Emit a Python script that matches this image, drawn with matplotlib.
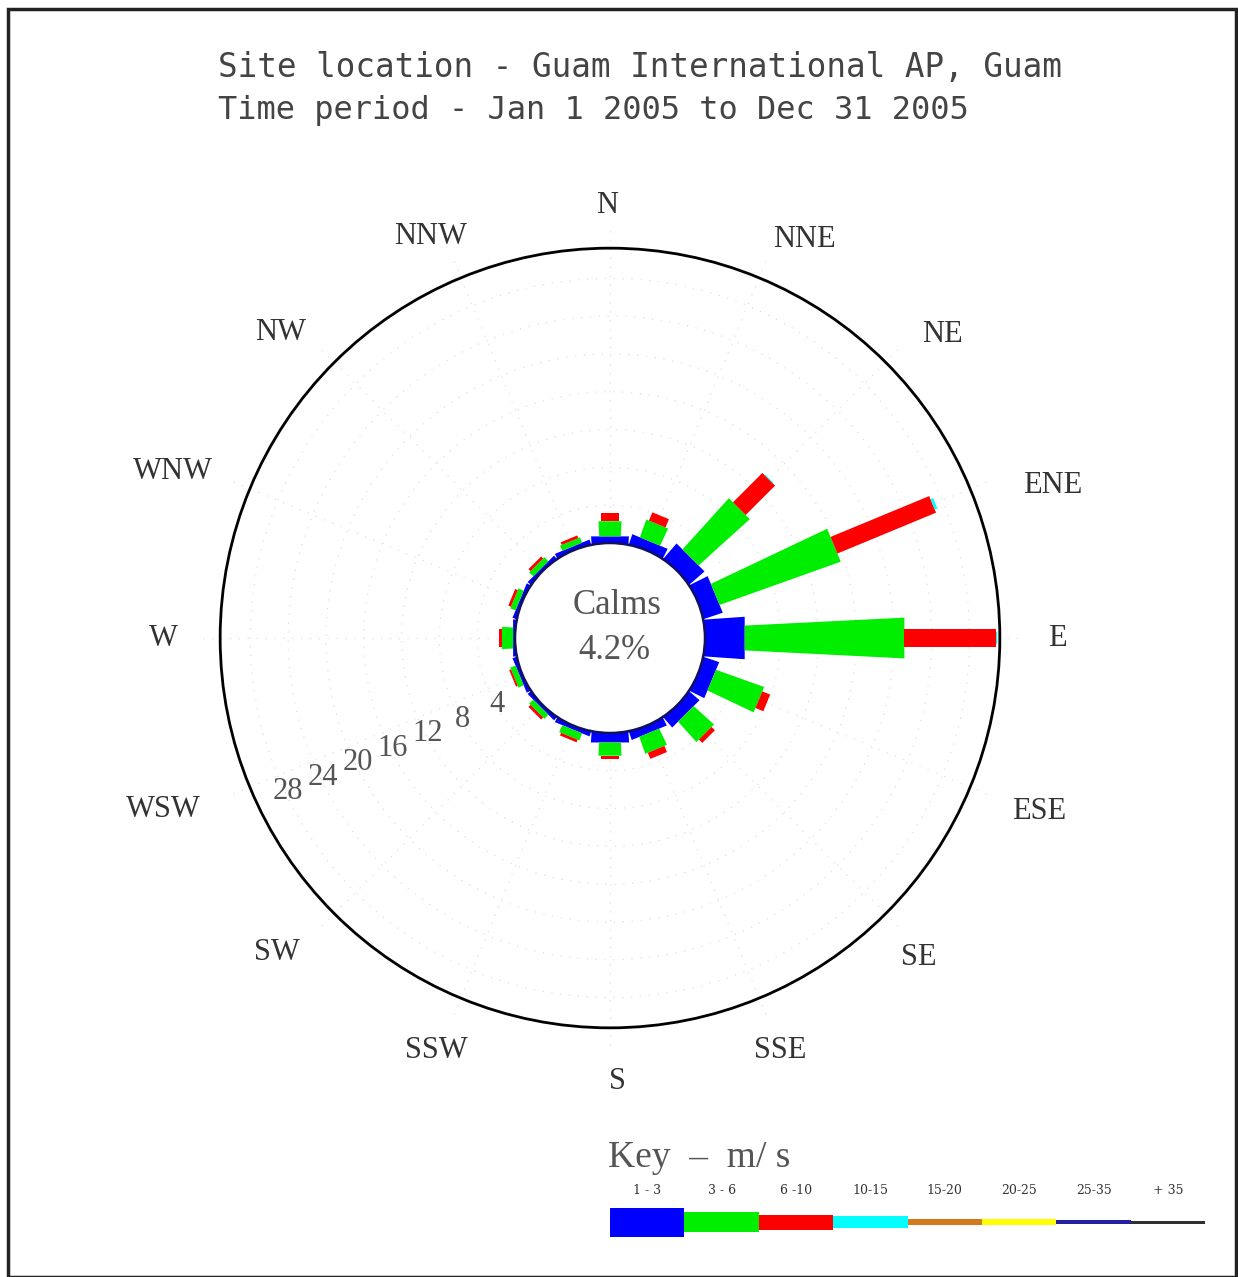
import numpy as np
import matplotlib
matplotlib.use("Agg")
from matplotlib import pyplot as plt
from matplotlib.patches import Polygon, Circle, Rectangle

# wind directions, clockwise from north
directions = ["N", "NNE", "NE", "ENE", "E", "ESE", "SE", "SSE",
              "S", "SSW", "SW", "WSW", "W", "WNW", "NW", "NNW"]

# percent frequency per speed class (m/s) and direction
speed_1_3 = [0.7, 1.0, 2.0, 2.0, 4.2, 1.6, 1.3, 0.8, 1.0, 0.4, 0.3, 0.3, 0.2, 0.3, 0.3, 0.4]
speed_3_6 = [1.6, 2.0, 7.3, 13.6, 16.9, 5.4, 2.9, 1.9, 1.4, 0.8, 0.6, 0.6, 1.2, 0.6, 0.6, 0.6]
speed_6_10 = [0.85, 0.95, 4.4, 11.3, 9.7, 0.9, 0.5, 0.7, 0.4, 0.3, 0.3, 0.2, 0.3, 0.3, 0.3, 0.3]
speed_10_15 = [0, 0, 0.1, 0.3, 0.05, 0, 0, 0, 0, 0, 0, 0, 0, 0, 0, 0]

calms = 4.2
ring_ticks = [4, 8, 12, 16, 20, 24, 28]
r_max = 31.2

key_labels = ["1 - 3", "3 - 6", "6 -10", "10-15", "15-20", "20-25", "25-35", "+ 35"]
key_colors = ["#0000ff", "#00ee00", "#ff0000", "#00ffff", "#d27a1e", "#ffff00", "#2020a0", "#303030"]
key_thick = [29, 20, 15, 12, 6, 6, 4, 3]

W, H = 1238, 1277
fig = plt.figure(figsize=(W / 100, H / 100), dpi=100)
fig.patch.set_facecolor("white")

# rose axes: 1 data unit = 1 percent, centre of rose at (0, 0)
cx, cy, px = 610, 638, 9.45
half = 45
ax = fig.add_axes([(cx - half * px) / W, 1 - (cy + half * px) / H,
                   2 * half * px / W, 2 * half * px / H])
ax.set_xlim(-half, half)
ax.set_ylim(-half, half)
ax.axis("off")

C = 95 / px  # radius of the calm circle
serif = "Liberation Serif"

# faint dotted grid
grid_kw = dict(color="#dadada", lw=0.8, ls=(0, (1, 7)), zorder=1)
t = np.linspace(0, 2 * np.pi, 400)
for v in ring_ticks:
    ax.plot((C + v) * np.cos(t), (C + v) * np.sin(t), **grid_kw)
theta = np.deg2rad(np.arange(16) * 22.5)
for th in theta:
    ax.plot([C * np.sin(th), (C + r_max + 2.5) * np.sin(th)],
            [C * np.cos(th), (C + r_max + 2.5) * np.cos(th)], **grid_kw)

ax.add_patch(Circle((0, 0), C + r_max, fill=False, ec="black", lw=2.0, zorder=2))

# stacked bars, one trapezoid per speed class
classes = [(speed_1_3, key_colors[0], 2.5, 0.14),
           (speed_3_6, key_colors[1], 1.2, 0.1),
           (speed_6_10, key_colors[2], 1.9, 0.0),
           (speed_10_15, key_colors[3], 1.2, 0.0)]
base = np.zeros(16)
for k, (vals, color, a, b) in enumerate(classes):
    vals = np.asarray(vals, dtype=float)
    for i, th in enumerate(theta):
        if vals[i] <= 0:
            continue
        r0 = C + base[i] - (0.6 if k == 0 else 0)
        r1 = C + base[i] + vals[i]
        d = np.array([np.sin(th), np.cos(th)])
        p = np.array([np.cos(th), -np.sin(th)])
        h0 = (a + b * r0) / 2
        h1 = (a + b * r1) / 2
        pts = [r0 * d - h0 * p, r1 * d - h1 * p, r1 * d + h1 * p, r0 * d + h0 * p]
        ax.add_patch(Polygon(pts, closed=True, fc=color, ec="none", zorder=3))
    base += vals

ax.add_patch(Circle((0, 0), C, fc="white", ec="#101060", lw=1.8, zorder=4))
ax.text(0.8, 3.4, "Calms", ha="center", va="center", fontsize=25,
        family=serif, color="#555555", zorder=5)
ax.text(0.5, -1.3, f"{calms}%", ha="center", va="center", fontsize=25,
        family=serif, color="#555555", zorder=5)

# radial scale labels along WSW, shifted off the spoke
th_s = np.deg2rad(247.5)
d_s = np.array([np.sin(th_s), np.cos(th_s)])
n_s = np.array([np.cos(th_s), -np.sin(th_s)])
for v in ring_ticks:
    x, y = (C + v - 0.3) * d_s - 1.97 * n_s
    ax.text(x, y, str(v), ha="center", va="center", fontsize=22,
            family=serif, color="#555555", zorder=5)

# compass labels: (angle nudge in degrees, distance from centre in px)
label_place = [(-0.4, 433), (3.5, 443), (2.6, 450), (3.5, 468),
               (0, 447), (-0.5, 463), (1, 444), (0.1, 446),
               (-1, 444), (0.3, 447), (1.6, 458), (1.5, 479),
               (0, 447), (-1.7, 468), (-2.2, 449), (-1.5, 440)]
for name, th, (nudge, rp) in zip(directions, theta, label_place):
    a = th + np.deg2rad(nudge)
    r = rp / px
    ax.text(r * np.sin(a), r * np.cos(a), name, ha="center", va="center",
            fontsize=22, family=serif, color="#333333")

# titles
mono = "DejaVu Sans Mono"
fig.text(218 / W, 1 - 67 / H, "Site location - Guam International AP, Guam",
         ha="left", va="center", fontsize=23.5, family=mono, color="#444444")
fig.text(218 / W, 1 - 110 / H, "Time period - Jan 1 2005 to Dec 31 2005",
         ha="left", va="center", fontsize=23, family=mono, color="#444444")

# speed key
fig.text(608 / W, 1 - 1158 / H, "Key  \u2013  m/ s", ha="left", va="center",
         fontsize=27, family=serif, color="#555555")
kax = fig.add_axes([610 / W, 1 - 1242 / H, 595 / W, 40 / H])
kax.set_xlim(0, len(key_labels))
kax.set_ylim(-20, 20)
kax.axis("off")
xk = np.arange(len(key_labels))
kax.bar(xk, key_thick, bottom=-np.asarray(key_thick) / 2, width=1.0,
        align="edge", color=key_colors, edgecolor="none")
for i, lab in enumerate(key_labels):
    fig.text((610 + (i + 0.5) * 74.4) / W, 1 - 1190 / H, lab, ha="center",
             va="center", fontsize=9, family="DejaVu Serif", color="#333333")

# outer frame
fig.patches.append(Rectangle((8 / W, 0.5 / H), (1236 - 8) / W, (1276 - 8) / H,
                             transform=fig.transFigure, fill=False,
                             ec="#222222", lw=2.5))

fig.savefig("out.png", dpi=100, facecolor="white")
